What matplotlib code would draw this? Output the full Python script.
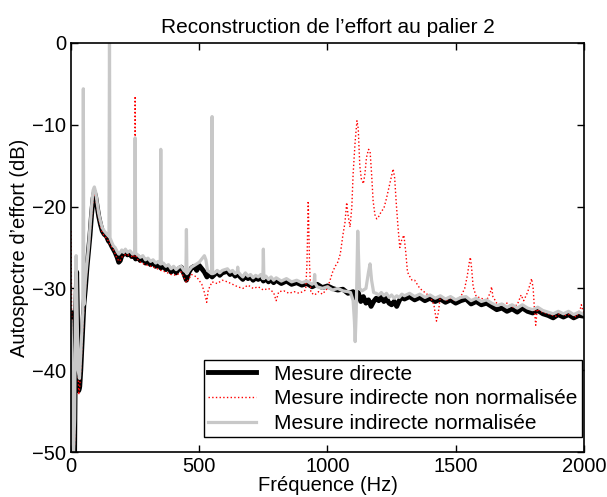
import matplotlib
matplotlib.use('Agg')
import matplotlib.pyplot as plt

plt.rcParams['font.family'] = ['Liberation Sans', 'DejaVu Sans']

# Mesure directe (Hz, dB)
directe = [
    (0, -33), (3, -34), (6, -46), (10, -50), (14, -50), (18, -34), (22, -28), (26, -35),
    (30, -42.5), (34, -42), (38, -40), (44, -36), (50, -32), (56, -30), (62, -27.5),
    (68, -25.5), (74, -23.5), (80, -21), (86, -19), (91, -18.2), (96, -18.8), (102, -20),
    (108, -21.2), (115, -22.2), (122, -23), (130, -23.4), (138, -23.6), (146, -24.2),
    (152, -24.4), (158, -24.8), (165, -25.2), (172, -25.6), (180, -26.2), (186, -26.8),
    (192, -26.6), (198, -26), (205, -25.8), (212, -25.5), (220, -25.9), (228, -25.6),
    (236, -26.1), (244, -25.9), (252, -26.4), (260, -26.1), (270, -26.6), (280, -26.3),
    (290, -26.9), (300, -26.6), (310, -27.1), (320, -26.8), (330, -27.3), (340, -27.0),
    (350, -27.5), (360, -27.2), (370, -27.7), (380, -27.4), (390, -28.0), (400, -27.6),
    (410, -28.1), (420, -27.6), (430, -27.4), (440, -28.2), (450, -29.0), (460, -28.0),
    (470, -27.5), (480, -27.3), (490, -27.8), (500, -27.2), (510, -27.6), (520, -28.0),
    (530, -28.6), (540, -28.2), (550, -28.6), (560, -28.3), (570, -28.0), (580, -28.4),
    (590, -28.1), (600, -28.0), (610, -27.9), (620, -28.3), (630, -28.1), (640, -28.5),
    (650, -28.2), (660, -28.6), (670, -28.9), (680, -28.4), (690, -28.8), (700, -28.6),
    (710, -29.0), (720, -28.7), (730, -28.9), (740, -28.6), (750, -29.1), (760, -28.8),
    (770, -29.2), (780, -28.9), (790, -29.3), (800, -29.0), (820, -29.4), (840, -29.1),
    (860, -29.5), (880, -29.3), (900, -29.6), (920, -29.4), (940, -29.8), (960, -29.5),
    (980, -29.9), (1000, -29.7), (1020, -30.0), (1040, -30.2), (1060, -30.1), (1080, -30.6),
    (1100, -30.4), (1110, -31.2), (1120, -30.5), (1130, -31.6), (1140, -31.0), (1150, -31.8),
    (1160, -31.4), (1170, -32.2), (1180, -31.6), (1190, -31.2), (1200, -31.5), (1210, -31.0),
    (1220, -31.6), (1230, -31.2), (1240, -31.8), (1250, -32.0), (1260, -31.6), (1270, -32.2),
    (1280, -31.5), (1290, -31.0), (1300, -31.3), (1320, -31.0), (1340, -31.4), (1360, -31.1),
    (1380, -31.5), (1400, -31.2), (1420, -31.6), (1440, -31.3), (1460, -31.7), (1480, -31.4),
    (1500, -31.8), (1520, -31.5), (1540, -31.3), (1560, -31.9), (1580, -31.6), (1600, -32.0),
    (1620, -31.8), (1640, -32.2), (1660, -32.6), (1680, -32.4), (1700, -32.8), (1720, -32.5),
    (1740, -32.9), (1760, -32.4), (1780, -32.8), (1800, -33.0), (1820, -32.7), (1840, -33.1),
    (1860, -33.3), (1880, -33.6), (1900, -33.2), (1920, -33.5), (1940, -33.2), (1960, -33.6),
    (1980, -33.3), (2000, -33.4),
]

# Mesure indirecte non normalisee (Hz, dB)
non_normalisee = [
    (0, -23), (3, -36), (6, -47), (10, -50), (14, -49), (18, -35), (22, -29), (26, -36),
    (30, -43), (34, -42), (38, -40), (44, -36), (50, -32), (56, -30), (62, -27.6),
    (68, -25.6), (74, -23.6), (80, -21.2), (86, -19.2), (91, -18.4), (96, -19), (102, -20.2),
    (108, -21.4), (115, -22.4), (122, -23.2), (130, -23.6), (140, -23.9), (150, -24.5),
    (160, -25), (170, -25.6), (180, -26.4), (190, -26.7), (200, -26.1), (215, -25.8),
    (230, -26), (245, -26.2), (248, -25), (250, -6.5), (252, -25), (255, -26.3),
    (270, -26.8), (290, -27.1), (310, -27.3), (330, -27.5), (350, -27.8), (370, -28),
    (390, -28.3), (410, -28.4), (430, -28), (450, -29.3), (470, -28.3), (490, -28.6),
    (510, -29.5), (520, -30.5), (529, -31.7), (535, -30.2), (550, -29.2), (570, -29.4),
    (590, -29), (610, -29.2), (630, -29.5), (650, -29.8), (670, -30), (690, -29.6),
    (710, -30), (730, -29.8), (750, -30.2), (770, -30), (790, -30.5), (800, -31.5),
    (810, -30.4), (830, -30.3), (850, -30.6), (870, -30.4), (890, -30.6), (915, -30.2),
    (920, -27), (925, -19.3), (930, -27), (935, -30.5), (950, -30.8), (965, -30.4),
    (980, -30.7), (1000, -30), (1010, -29), (1020, -28), (1030, -27.3), (1040, -26.8),
    (1050, -25.8), (1060, -23.5), (1068, -22), (1075, -19.5), (1080, -21), (1088, -22.5),
    (1095, -20), (1100, -16), (1108, -12), (1115, -9.5), (1120, -10.5), (1126, -15),
    (1132, -16.6), (1140, -17.2), (1146, -16), (1152, -14), (1160, -13), (1166, -13.2),
    (1172, -16), (1178, -19.3), (1185, -21), (1192, -21.5), (1200, -21.2), (1210, -20.6),
    (1220, -20.2), (1230, -19), (1240, -17.6), (1250, -16.2), (1256, -15.4), (1262, -16.5),
    (1268, -19.5), (1275, -22.5), (1282, -25), (1290, -24), (1298, -23.5), (1305, -25.5),
    (1312, -28), (1320, -28.5), (1330, -29), (1340, -29), (1350, -29.5), (1360, -30),
    (1380, -30.5), (1400, -31), (1415, -32), (1425, -34), (1432, -33), (1440, -31),
    (1460, -31.5), (1480, -31.2), (1500, -31.5), (1520, -31), (1535, -30), (1545, -28.5),
    (1552, -27), (1557, -26.2), (1562, -27.5), (1568, -29.8), (1580, -31), (1600, -31.2),
    (1620, -31.5), (1635, -30.5), (1640, -29.8), (1645, -31), (1660, -31.8), (1680, -32),
    (1700, -31.8), (1720, -32.3), (1740, -32), (1755, -30.8), (1765, -31.5), (1780, -30.5),
    (1790, -29.5), (1796, -28.8), (1802, -30), (1808, -33), (1812, -34.5), (1818, -32.5),
    (1830, -32.8), (1850, -33), (1870, -33.2), (1890, -33.4), (1910, -33), (1930, -33.3),
    (1950, -33.1), (1970, -33.5), (1985, -32.6), (1990, -32), (1995, -32.6), (2000, -33),
]

# Mesure indirecte normalisee (Hz, dB)
normalisee = [
    (0, -34), (3, -38), (6, -49), (10, -50), (14, -46), (18, -30), (20, -26), (23, -32),
    (28, -40), (33, -41), (38, -38), (44, -34), (46, -33), (48, -5.6), (50, -32), (56, -29),
    (62, -27), (68, -25), (74, -22.5), (80, -20), (86, -18), (91, -17.6), (96, -18.2),
    (102, -19.5), (108, -20.8), (115, -21.8), (122, -22.6), (130, -23), (138, -23.3),
    (146, -23.6), (148, -23.6), (150, 2), (152, -23.8), (158, -24.3), (165, -24.8),
    (172, -25), (180, -25.5), (186, -25.8), (192, -25.6), (198, -25.3), (205, -25.6),
    (212, -25.2), (220, -25.6), (230, -25.4), (240, -25.8), (248, -25.6), (250, -11.6),
    (252, -25.7), (260, -25.9), (270, -26.2), (280, -26), (290, -26.5), (300, -26.3),
    (310, -26.7), (320, -26.5), (330, -26.9), (340, -26.7), (348, -27), (350, -13),
    (352, -27), (360, -26.9), (370, -27.3), (380, -27.1), (390, -27.6), (400, -27.3),
    (410, -27.7), (420, -27.4), (430, -27.3), (440, -27.8), (448, -28), (450, -22.8),
    (452, -28.2), (460, -27.8), (470, -27.4), (480, -27.2), (490, -27), (500, -26.8),
    (510, -26.4), (520, -26), (526, -26.5), (532, -27.8), (540, -28), (548, -28.2),
    (550, -9), (552, -28.2), (560, -28.1), (570, -27.8), (580, -28.1), (590, -27.8),
    (600, -27.7), (610, -27.6), (620, -28), (630, -27.8), (640, -28.2), (648, -28),
    (650, -27.4), (652, -28), (660, -28.3), (670, -28.6), (680, -28.1), (690, -28.5),
    (700, -28.3), (710, -28.7), (720, -28.4), (730, -28.6), (740, -28.3), (748, -28.8),
    (750, -25.2), (752, -28.8), (760, -28.5), (770, -28.9), (780, -28.6), (790, -29),
    (800, -28.7), (820, -29.1), (840, -28.8), (860, -29.2), (880, -29), (900, -29.3),
    (920, -29.1), (940, -29.5), (948, -29.3), (950, -28.3), (952, -29.4), (960, -29.8),
    (980, -30), (1000, -29.8), (1020, -30.2), (1040, -30), (1060, -30.3), (1080, -30.4),
    (1090, -30.5), (1100, -31.5), (1105, -34), (1108, -36.5), (1112, -33), (1116, -26),
    (1118, -23), (1121, -26), (1125, -30), (1135, -30.3), (1150, -30), (1160, -28),
    (1166, -27), (1172, -29), (1180, -30.5), (1190, -30.6), (1200, -30.8), (1210, -30.5),
    (1220, -30.9), (1230, -30.6), (1240, -31.1), (1250, -30.8), (1260, -31.2), (1270, -30.9),
    (1280, -31.1), (1290, -30.7), (1300, -30.9), (1320, -30.6), (1340, -31), (1360, -30.7),
    (1380, -31.1), (1400, -30.8), (1420, -31.2), (1440, -30.9), (1460, -31.3), (1480, -31),
    (1500, -31.4), (1520, -31.1), (1540, -31), (1560, -31.5), (1580, -31.2), (1600, -31.6),
    (1620, -31.4), (1640, -31.8), (1660, -32.1), (1680, -31.9), (1700, -32.3), (1720, -32),
    (1740, -32.4), (1760, -32), (1780, -32.4), (1800, -32.6), (1820, -32.3), (1840, -32.7),
    (1860, -32.9), (1880, -33.1), (1900, -32.8), (1920, -33.1), (1940, -32.8), (1960, -33.2),
    (1980, -32.9), (2000, -33.2),
]

f_d, l_d = zip(*directe)
f_nn, l_nn = zip(*non_normalisee)
f_n, l_n = zip(*normalisee)

fig = plt.figure(figsize=(6.07, 4.97), dpi=100)
ax = fig.add_axes([0.117, 0.0905, 0.845, 0.823])

ax.plot(f_d, l_d, color='black', lw=3.5, label='Mesure directe')
ax.plot(f_nn, l_nn, color='red', ls=':', lw=1, label='Mesure indirecte non normalisée')
ax.plot(f_n, l_n, color='#c8c8c8', lw=2.3, label='Mesure indirecte normalisée')

ax.set_xlim(0, 2000)
ax.set_ylim(-50, 0)
ax.set_xticks([0, 500, 1000, 1500, 2000])
ax.set_yticks([-50, -40, -30, -20, -10, 0])
ax.tick_params(direction='in', top=True, right=True, labelsize=14.5, length=5, width=1)
for s in ax.spines.values():
    s.set_linewidth(1.2)

ax.set_title('Reconstruction de l\u2019effort au palier 2', fontsize=15, pad=7)
ax.set_xlabel('Fréquence (Hz)', fontsize=14.5, labelpad=0)
ax.set_ylabel('Autospectre d\u2019effort (dB)', fontsize=14.5, labelpad=2)

leg = ax.legend(loc='lower right', bbox_to_anchor=(0.996, 0.0367), borderaxespad=0,
                fontsize=15, fancybox=False, edgecolor='black', framealpha=1,
                labelspacing=0.27, handlelength=2.3, borderpad=0.2, handletextpad=0.9)
leg.get_frame().set_linewidth(1)

fig.savefig('out.png', dpi=100)
